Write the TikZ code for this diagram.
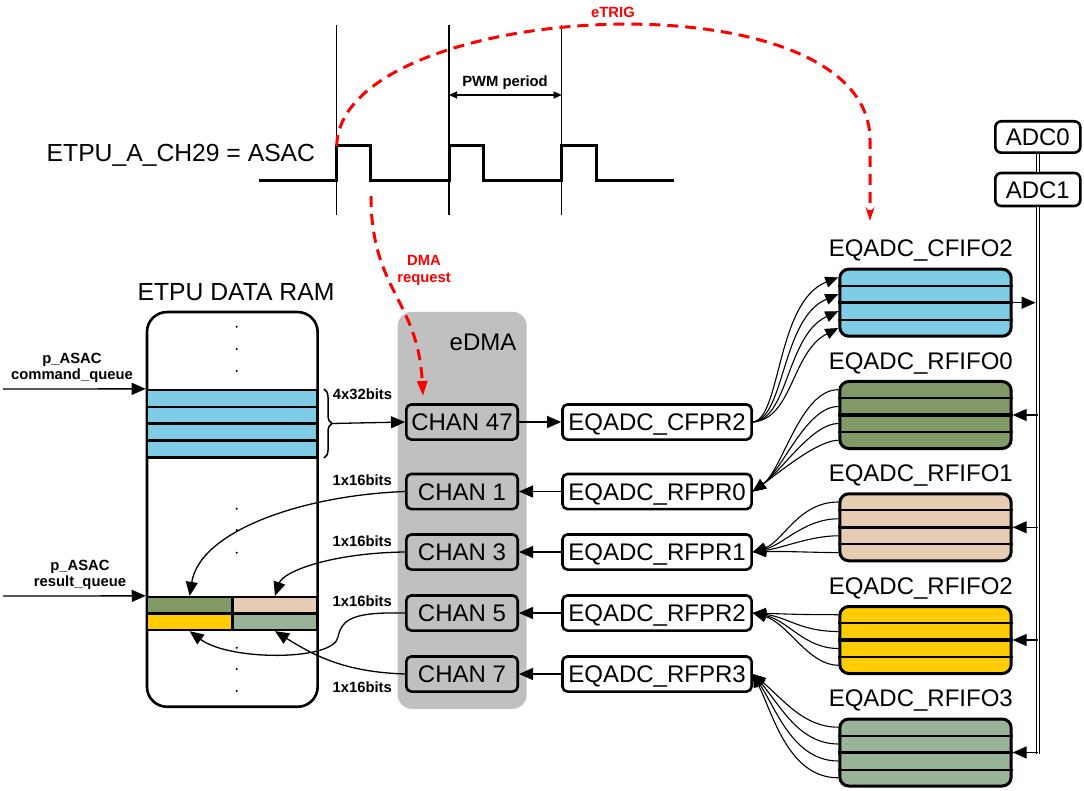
\documentclass[tikz,border=0pt]{standalone}
\usepackage{fontspec}
\setmainfont{Liberation Sans}
\usetikzlibrary{arrows.meta,decorations.pathreplacing,calc}
\definecolor{cblue}{RGB}{126,204,230}
\definecolor{cgreen}{RGB}{128,153,102}
\definecolor{cbeige}{RGB}{230,204,178}
\definecolor{cyellow}{RGB}{255,204,0}
\definecolor{csage}{RGB}{153,179,153}
\definecolor{cgray}{RGB}{192,192,192}
\definecolor{cred}{RGB}{255,0,0}
\tikzset{
  bigtxt/.style={font=\fontsize{24}{28}\selectfont, text height=17.2pt, text depth=0pt, inner sep=0pt},
  titletxt/.style={font=\fontsize{24.7}{28}\selectfont, text height=17.7pt, text depth=0pt, inner sep=0pt},
  smalltxt/.style={font=\bfseries\fontsize{14.8}{16.7}\selectfont, inner sep=0pt},
  onelbl/.style={smalltxt, text height=10.6pt, text depth=0pt},
  chanbox/.style={bigtxt, draw, line width=2.6pt, rounded corners=5pt, fill=cgray, minimum width=111.4pt, minimum height=35.1pt},
  regbox/.style={bigtxt, draw, line width=2.6pt, rounded corners=5pt, fill=white, minimum width=189.1pt, minimum height=35.1pt},
  adcbox/.style={bigtxt, draw, line width=2.6pt, rounded corners=6pt, fill=white, minimum width=85pt},
  fifobox/.style={draw, line width=3pt, rounded corners=9pt, minimum width=171.4pt, minimum height=67pt, inner sep=0pt},
  cell/.style={draw, line width=2.5pt, inner sep=0pt},
  con/.style={line width=1.3pt},
  arr/.style={con, -{Triangle[length=14pt,width=12pt]}},
  fan/.style={line width=1.1pt, -{Triangle[length=13pt,width=11pt]}},
  reddash/.style={draw=cred, line width=3pt, dash pattern=on 11pt off 7pt},
}
\newcommand{\drawfifo}[4]{%
  \node[fifobox, fill=#3] (#1) at (925.5,#2) {};
  \draw[line width=2pt] ($(#1.west)+(0,-17)$) -- ($(#1.east)+(0,-17)$);
  \draw[line width=3.4pt] (#1.west) -- (#1.east);
  \draw[line width=2pt] ($(#1.west)+(0,17)$) -- ($(#1.east)+(0,17)$);
  \node[bigtxt, anchor=east] (#1l) at (1013,#2-54.5) {#4};
}
\begin{document}
\begin{tikzpicture}[x=1pt,y=-1pt]
\useasboundingbox (0,0) rectangle (1084,791);

% ---------- waveform ----------
\foreach \xx in {336.7,449,561.7} \draw[line width=1.2pt] (\xx,25) -- (\xx,215);
\draw[line width=3pt] (259,181) -- (336.7,181) -- (336.7,146) -- (370.7,146) -- (370.7,181)
  -- (449,181) -- (449,146) -- (483,146) -- (483,181) -- (561.7,181) -- (561.7,146)
  -- (596.7,146) -- (596.7,181) -- (674,181);
\node[titletxt, anchor=west] (sig) at (46.5,152.5) {ETPU\_A\_CH29 = ASAC};
\coordinate (pw0) at (449,95);
\coordinate (pw1) at (561.7,95);
\draw[line width=1.1pt, {Triangle[length=8pt,width=7pt]}-{Triangle[length=8pt,width=7pt]}] (pw0) -- (pw1);
\node[onelbl] (pwm) at (505,81) {PWM period};

% ---------- eTRIG ----------
\coordinate (et0) at (336.7,146);
\coordinate (et1) at (870,140);
\coordinate (et2) at (870,221);
\draw[reddash, -{Stealth[length=14pt,width=9pt,inset=5pt]}] (et0) .. controls (340,0) and (870,-30) .. (et1) -- (et2);
\node[onelbl, text=cred] (etrig) at (613,12) {eTRIG};

% ---------- ETPU DATA RAM ----------
\node[titletxt] (ramt) at (236,292) {ETPU DATA RAM};
\node[draw, line width=2.6pt, rounded corners=20pt, minimum width=170.7pt, minimum height=394.7pt, inner sep=0pt, fill=white] (ram) at (232.3,509.4) {};
\foreach \yy in {326.7,349,371,508.7,530,552.7,647.7,669,691} \fill (236.7,\yy) circle (1.1pt);
\node[cell, fill=cblue, minimum width=170.7pt, minimum height=16.8pt] (c1) at (232.3,398.5) {};
\node[cell, fill=cblue, minimum width=170.7pt, minimum height=16.8pt] (c2) at (232.3,415.3) {};
\node[cell, fill=cblue, minimum width=170.7pt, minimum height=16.8pt] (c3) at (232.3,432.1) {};
\node[cell, fill=cblue, minimum width=170.7pt, minimum height=16.8pt] (c4) at (232.3,448.9) {};
\node[cell, fill=cgreen, minimum width=85.3pt, minimum height=16.4pt] (r0) at (189.65,605.3) {};
\node[cell, fill=cbeige, minimum width=85.4pt, minimum height=16.4pt] (r1) at (275,605.3) {};
\node[cell, fill=cyellow, minimum width=85.3pt, minimum height=16.4pt] (r2) at (189.65,621.7) {};
\node[cell, fill=csage, minimum width=85.4pt, minimum height=16.4pt] (r3) at (275,621.7) {};

\node[smalltxt, align=center] (cql) at (72,368) {p\_ASAC\\command\_queue};
\node[smalltxt, align=center] (rql) at (80,575) {p\_ASAC\\result\_queue};
\coordinate (cqs) at (3,389);
\coordinate (rqs) at (3,596);
\draw[arr] (cqs) -- (c1.north west);
\draw[arr] (rqs) -- (r0.north west);

% brace
\draw[line width=1.5pt, decorate, decoration={brace, amplitude=8pt}] (324,389) -- (324,458);
\coordinate (bt) at (332,423.5);
\node[onelbl] (l4x) at (362.5,394.3) {4x32bits};

% ---------- eDMA ----------
\node[fill=cgray, rounded corners=14pt, minimum width=129pt, minimum height=397pt, inner sep=0pt] (edma) at (462.2,510.3) {};
\node[bigtxt] (edmal) at (483,341.7) {eDMA};
\node[chanbox] (ch47) at (462,422) {CHAN 47};
\node[chanbox] (ch1) at (462,491.5) {CHAN 1};
\node[chanbox] (ch3) at (462,552) {CHAN 3};
\node[chanbox] (ch5) at (462,613) {CHAN 5};
\node[chanbox] (ch7) at (462,674) {CHAN 7};

\node[regbox] (cfpr) at (657,422) {EQADC\_CFPR2};
\node[regbox] (rfpr0) at (657,491.5) {EQADC\_RFPR0};
\node[regbox] (rfpr1) at (657,552) {EQADC\_RFPR1};
\node[regbox] (rfpr2) at (657,613) {EQADC\_RFPR2};
\node[regbox] (rfpr3) at (657,674) {EQADC\_RFPR3};

\draw[arr] (bt) -- (ch47.west);
\draw[arr] (ch47.east) -- (cfpr.west);
\draw[arr] (rfpr0.west) -- (ch1.east);
\draw[arr] (rfpr1.west) -- (ch3.east);
\draw[arr] (rfpr2.west) -- (ch5.east);
\draw[arr] (rfpr3.west) -- (ch7.east);

\node[onelbl] (l1) at (362.2,480) {1x16bits};
\node[onelbl] (l3) at (362.2,540.7) {1x16bits};
\node[onelbl] (l5) at (362.2,601) {1x16bits};
\node[onelbl] (l7) at (362.2,687) {1x16bits};

% CHAN -> result queue curves
\draw[arr] (ch1.west) .. controls +(-105,4) and +(10,-64) .. (r0.north);
\draw[arr] (ch3.west) .. controls +(-75,1) and +(8,-24) .. (r1.north);
\draw[arr] (ch5.west) .. controls ($(ch5.west)+(-50,-1)$) and ($(ch5.west)+(-63,5)$) .. ($(ch5.west)+(-67,24)$)
   .. controls ($(ch5.west)+(-71,48)$) and ($(r2.south)+(40,30)$) .. (r2.south);
\draw[arr] (ch7.west) .. controls +(-60,-2) and +(40,25) .. (r3.south);

% DMA request
\coordinate (dmas) at (371,196);
\coordinate (dmae) at (423,396);
\draw[reddash, -{Triangle[length=15pt,width=10pt]}] (dmas) .. controls (371,290) and (418,300) .. (dmae);
\node[smalltxt, text=cred, align=center] (dmal) at (424,270.5) {DMA\\request};

% ---------- FIFOs ----------
\drawfifo{cf}{302.7}{cblue}{EQADC\_CFIFO2}
\drawfifo{rf0}{415}{cgreen}{EQADC\_RFIFO0}
\drawfifo{rf1}{527.3}{cbeige}{EQADC\_RFIFO1}
\drawfifo{rf2}{640}{cyellow}{EQADC\_RFIFO2}
\drawfifo{rf3}{752.5}{csage}{EQADC\_RFIFO3}

\foreach \dy/\k in {-25.3/0,-8.5/1,8.5/2,25.3/3}
  \draw[fan] (cfpr.east) .. controls +(28+4*\k,-3) and +(-62+5*\k,24) .. ($(cf.west)+(0,\dy)$);
\foreach \dy/\k in {-25.3/0,-8.5/1,8.5/2,25.3/3}
  \draw[fan] ($(rf0.west)+(0,\dy)$) .. controls +(-38+6*\k,0) and +(30,-22) .. (rfpr0.east);
\foreach \dy/\k in {-25.3/0,-8.5/1,8.5/2,25.3/3}
  \draw[fan] ($(rf1.west)+(0,\dy)$) .. controls +(-40+6*\k,0) and +(30,-10+3*\k) .. (rfpr1.east);
\foreach \dy/\k in {-25.3/0,-8.5/1,8.5/2,25.3/3}
  \draw[fan] ($(rf2.west)+(0,\dy)$) .. controls +(-42+4*\k,0) and +(35,1+3*\k) .. (rfpr2.east);
\foreach \dy/\k in {-25.3/0,-8.5/1,8.5/2,25.3/3}
  \draw[fan] ($(rf3.west)+(0,\dy)$) .. controls +(-35-5*\k,0) and +(30-3.3*\k,25+5*\k) .. (rfpr3.east);

% ---------- ADCs and bus ----------
\node[adcbox, minimum height=31.4pt] (adc0) at (1037.8,137) {ADC0};
\node[adcbox, minimum height=33pt] (adc1) at (1037.8,189.5) {ADC1};
\draw[double, double distance=2.2pt, line width=1.1pt] (adc0.south) -- (adc1.north);
\draw[double, double distance=2.2pt, line width=1.1pt] (adc1.south) -- ($(rf3.east -| adc1.south)+(0,1)$);
\draw[arr, shorten >=2.2pt] (cf.east) -- (cf.east -| adc1.south);
\draw[arr] (rf0.east -| adc1.south) -- (rf0.east);
\draw[arr] (rf1.east -| adc1.south) -- (rf1.east);
\draw[arr] (rf2.east -| adc1.south) -- (rf2.east);
\draw[arr] (rf3.east -| adc1.south) -- (rf3.east);
\end{tikzpicture}
\end{document}
